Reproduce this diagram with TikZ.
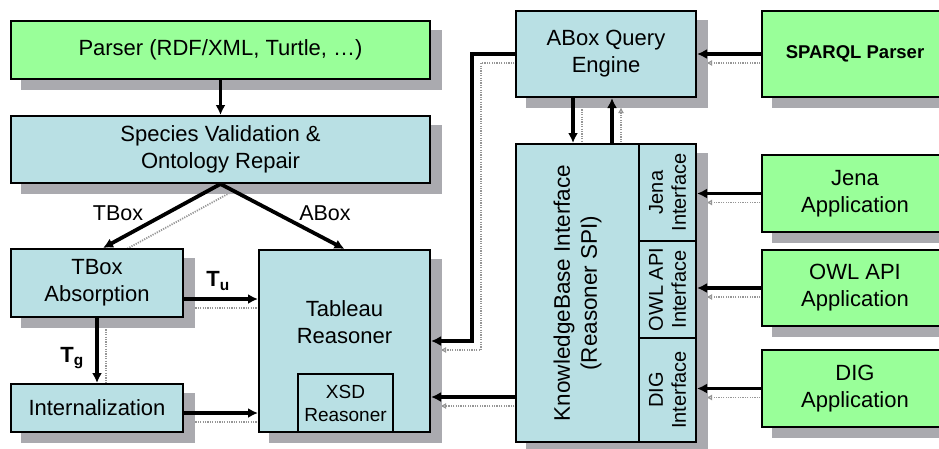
\documentclass[tikz,border=0pt]{standalone}
\usepackage{fontspec}
\setmainfont{Liberation Sans}
\usetikzlibrary{arrows.meta,calc}
\definecolor{boxblue}{RGB}{185,224,228}
\definecolor{boxgreen}{RGB}{153,255,153}
\definecolor{lngray}{RGB}{150,150,150}
\definecolor{bxgray}{RGB}{170,170,175}
\pgfdeclarelayer{bg}
\pgfsetlayers{bg,main}
\newcommand\fA{\fontsize{22}{27}\selectfont}
\newcommand\fK{\fontsize{22.5}{27}\selectfont}
\newcommand\fB{\fontsize{19}{23}\selectfont}
\newcommand\fS{\fontsize{18.5}{23}\selectfont}
\newcommand\fI{\fontsize{20}{23}\selectfont}
\newcommand\link[1]{%
  \begin{pgfonlayer}{bg}\begin{scope}[transform canvas={xshift=9pt,yshift=-9pt}]\draw[cshadow] #1;\end{scope}\end{pgfonlayer}
  \draw[carrow] #1;}
\begin{document}
\begin{tikzpicture}[x=1pt,y=-1pt,
  box/.style={draw, line width=2pt, rectangle, inner sep=0pt, align=center, font=\fA},
  bluebox/.style={box, fill=boxblue},
  greenbox/.style={box, fill=boxgreen},
  shnode/.style={rectangle, inner sep=0pt, fill=bxgray, draw=bxgray, line width=2pt},
  carrow/.style={line width=3.8pt, -{Latex[length=10pt,width=10pt]}},
  cshadow/.style={draw=lngray, line width=1.8pt, dash pattern=on 1.2pt off 1.2pt, -{Latex[length=6pt,width=6pt,open]}},
  lbl/.style={font=\fontsize{21.5}{24}\selectfont, inner sep=0pt},
  tlbl/.style={font=\fontsize{22}{24}\selectfont\bfseries, inner sep=0pt},
  rot/.style={rotate=90, align=center, inner sep=0pt},
]
\useasboundingbox (0,0) rectangle (939,448);
% box shadows as nodes, offset (11,10)
\node[shnode, minimum width=419pt, minimum height=58pt] (sh1) at (231.5,60) {};
\node[shnode, minimum width=419pt, minimum height=67pt] (sh2) at (231.5,159.5) {};
\node[shnode, minimum width=172pt, minimum height=68pt] (sh3) at (108,293) {};
\node[shnode, minimum width=172pt, minimum height=48pt] (sh4) at (108,418) {};
\node[shnode, minimum width=171pt, minimum height=182pt] (sh5) at (355.5,351) {};
\node[shnode, minimum width=180pt, minimum height=86pt] (sh6) at (617,64) {};
\node[shnode, minimum width=180pt, minimum height=298pt] (sh7) at (617,303) {};
\node[shnode, minimum width=186pt, minimum height=86pt] (sh8) at (866,64) {};
\node[shnode, minimum width=186pt, minimum height=77pt] (sh9) at (866,203.5) {};
\node[shnode, minimum width=186pt, minimum height=76pt] (sh10) at (866,298) {};
\node[shnode, minimum width=186pt, minimum height=77pt] (sh11) at (866,398.5) {};
% left part
\node[greenbox, minimum width=419pt, minimum height=58pt] (parser) at (220.5,50) {Parser (RDF/XML, Turtle, \dots)};
\node[bluebox, minimum width=419pt, minimum height=67pt] (species) at (220.5,149.5) {Species Validation \&\\Ontology Repair};
\node[bluebox, minimum width=172pt, minimum height=68pt] (tbox) at (97,283) {TBox\\Absorption};
\node[bluebox, minimum width=172pt, minimum height=48pt] (intern) at (97,408) {Internalization};
\node[bluebox, minimum width=171pt, minimum height=182pt] (tableau) at (344.5,341) {};
\node[align=center, font=\fA, inner sep=0pt] (tabtext) at (344.5,322) {Tableau\\Reasoner};
\node[bluebox, font=\fB, minimum width=95pt, minimum height=58pt] (xsd) at (345.5,403) {XSD\\Reasoner};
% right part
\node[bluebox, minimum width=180pt, minimum height=86pt] (aqe) at (606,54) {ABox Query\\Engine};
\node[bluebox, minimum width=180pt, minimum height=298pt] (kb) at (606,293) {};
\node[rot, font=\fK] (kbtext) at (577.5,293) {KnowledgeBase Interface\\(Reasoner SPI)};
\node[bluebox, minimum width=57pt, minimum height=97pt] (jena) at (667.5,192.5) {};
\node[rot, font=\fI] (jenatext) at (jena) {Jena\\Interface};
\node[bluebox, minimum width=57pt, minimum height=97pt] (owl) at (667.5,289.5) {};
\node[rot, font=\fI] (owltext) at (owl) {OWL API\\Interface};
\node[bluebox, minimum width=57pt, minimum height=104pt] (dig) at (667.5,390) {};
\node[rot, font=\fI] (digtext) at (dig) {DIG\\Interface};
\node[greenbox, font=\fS\bfseries, minimum width=186pt, minimum height=86pt] (sparql) at (855,54) {SPARQL Parser};
\node[greenbox, minimum width=186pt, minimum height=77pt] (jenaapp) at (855,193.5) {Jena\\Application};
\node[greenbox, minimum width=186pt, minimum height=76pt] (owlapp) at (855,288) {OWL API\\Application};
\node[greenbox, minimum width=186pt, minimum height=77pt] (digapp) at (855,388.5) {DIG\\Application};
% labels
\node[lbl] (lt) at (118,213) {TBox};
\node[lbl] (la) at (325,213) {ABox};
\node[tlbl] (ltu) at (218,281) {T\textsubscript{u}};
\node[tlbl] (ltg) at (72,358) {T\textsubscript{g}};
% connectors
\draw[carrow] (parser) -- (species);
\coordinate (tbt) at ($(tbox.north)+(6,0)$);
\link{(species.south) -- (tbt)}
\draw[carrow] (species.south) -- (tableau.north);
\coordinate (tu) at ($(tbox.east)+(0,16)$);
\link{(tu) -- (tu -| tableau.west)}
\link{(tbox.south) -- (intern.north)}
\coordinate (in) at ($(intern.east)+(0,5)$);
\link{(in) -- (in -| tableau.west)}
\link{(aqe.west) -- ++(-43,0) |- (tableau.east)}
\coordinate (kt) at ($(kb.south west)+(0,-46)$);
\link{(kt) -- (kt -| tableau.east)}
\coordinate (d1) at ($(aqe.south)+(-33,0)$);
\link{(d1) -- (d1 |- kb.north)}
\coordinate (u1) at ($(kb.north)+(6,0)$);
\link{(u1) -- (u1 |- aqe.south)}
\link{(sparql.west) -- (sparql.west -| aqe.east)}
\link{(jenaapp.west) -- (jenaapp.west -| jena.east)}
\link{(owlapp.west) -- (owlapp.west -| owl.east)}
\link{(digapp.west) -- (digapp.west -| dig.east)}
\end{tikzpicture}
\end{document}
